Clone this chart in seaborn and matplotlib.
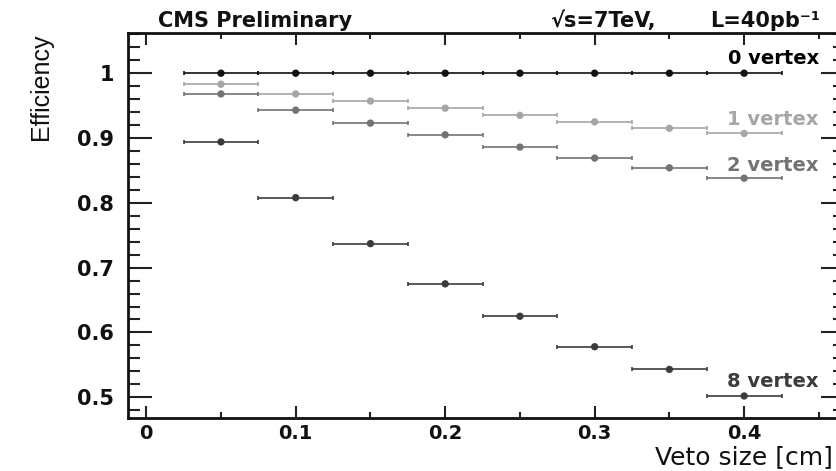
import numpy as np
import pandas as pd
import matplotlib
matplotlib.use("Agg")
import matplotlib.pyplot as plt
from matplotlib.ticker import MultipleLocator
import seaborn as sns

veto_size = [0.05, 0.10, 0.15, 0.20, 0.25, 0.30, 0.35, 0.40]
bin_half = 0.025
eff_0vtx = [1.000, 1.000, 1.000, 1.000, 1.000, 1.000, 1.000, 1.000]
eff_1vtx = [0.983, 0.968, 0.957, 0.946, 0.935, 0.925, 0.915, 0.907]
eff_2vtx = [0.968, 0.943, 0.923, 0.905, 0.886, 0.869, 0.854, 0.838]
eff_8vtx = [0.894, 0.808, 0.737, 0.675, 0.625, 0.578, 0.543, 0.502]
series_names = ["0 vertex", "1 vertex", "2 vertex", "8 vertex"]
series_colors = ["#111111", "#a6a6a6", "#737373", "#3c3c3c"]
label_y = [1.023, 0.928, 0.858, 0.524]

df = pd.DataFrame({
    "veto": veto_size * 4,
    "eff": eff_0vtx + eff_1vtx + eff_2vtx + eff_8vtx,
    "sample": [n for n in series_names for _ in veto_size],
})

sns.set_theme(style="ticks")
plt.rcParams["font.family"] = ["DejaVu Sans"]

fig = plt.figure(figsize=(8.36, 4.71), dpi=100)
ax = fig.add_axes([0.1531, 0.1125, 0.8577, 0.8174])

palette = dict(zip(series_names, series_colors))
for name in series_names:
    sub = df[df["sample"] == name]
    ax.errorbar(sub["veto"], sub["eff"], xerr=bin_half, fmt="none",
                ecolor=palette[name], elinewidth=1.2, capsize=1.5, capthick=1.2)
sns.scatterplot(data=df, x="veto", y="eff", hue="sample", palette=palette,
                s=28, edgecolor="none", legend=False, ax=ax, zorder=3)

ax.set_xlim(-0.0122, 0.4675)
ax.set_ylim(0.468, 1.062)
ax.xaxis.set_minor_locator(MultipleLocator(0.05))
ax.yaxis.set_minor_locator(MultipleLocator(0.02))
ax.set_yticks([0.5, 0.6, 0.7, 0.8, 0.9, 1.0])
ax.set_yticklabels(["0.5", "0.6", "0.7", "0.8", "0.9", "1"])
ax.set_xticks([0, 0.1, 0.2, 0.3, 0.4])
ax.set_xticklabels(["0", "0.1", "0.2", "0.3", "0.4"])

for s in ax.spines.values():
    s.set_visible(True)
    s.set_linewidth(2)
    s.set_color("#111111")

ax.tick_params(axis="both", which="both", direction="in", top=True, right=True,
               color="#222222", width=1.5)
ax.tick_params(axis="y", which="major", length=17, labelsize=15, pad=10)
ax.tick_params(axis="y", which="minor", length=8.5)
ax.tick_params(axis="x", which="major", length=8.5, labelsize=14, pad=4)
ax.tick_params(axis="x", which="minor", length=4)
for lab in ax.get_xticklabels() + ax.get_yticklabels():
    lab.set_fontweight("bold")
    lab.set_color("#111111")

ax.set_xlabel("Veto size [cm]", loc="right", fontsize=18, color="#111111")
ax.xaxis.set_label_coords(0.983, -0.071)
ax.set_ylabel("Efficiency", loc="top", fontsize=18, color="#111111",
              family=["Liberation Sans", "DejaVu Sans"])
ax.yaxis.set_label_coords(-0.105, 1.0)

for name, y, c in zip(series_names, label_y, series_colors):
    ax.text(0.450, y, name, ha="right", va="center", fontsize=14,
            fontweight="bold", color=c if name != "0 vertex" else "#000000")

fig.text(158 / 836, 1 - 27 / 471, "CMS Preliminary", fontsize=15,
         fontweight="bold", ha="left", va="baseline", color="#111111")
fig.text(550 / 836, 1 - 27 / 471, "\u221as=7TeV,", fontsize=15,
         fontweight="bold", ha="left", va="baseline", color="#111111")
fig.text(820 / 836, 1 - 27 / 471, "L=40pb\u207b\u00b9", fontsize=15,
         fontweight="bold", ha="right", va="baseline", color="#111111")

fig.savefig("out.png", dpi=100)
